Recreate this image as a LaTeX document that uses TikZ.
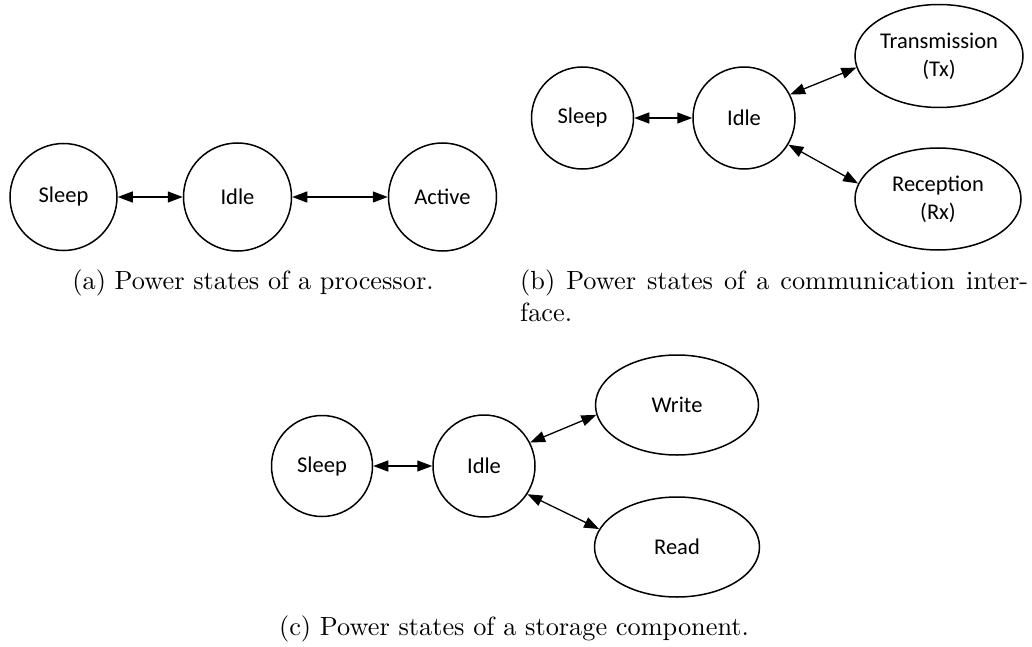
\documentclass[tikz,border=0pt]{standalone}
\usepackage{fontspec}
\newfontfamily\statefont{Carlito}
\newfontfamily\capfont{lmroman10-regular}[Extension=.otf]
\usetikzlibrary{shapes.geometric,arrows.meta}
\tikzset{
  state/.style={draw, line width=1.5pt, circle, inner sep=0pt,
    font=\statefont\fontsize{22.5}{28}\selectfont, align=center},
  oval/.style={draw, line width=1.5pt, ellipse, inner sep=0pt,
    font=\statefont\fontsize{22.5}{28}\selectfont, align=center},
  link/.style={line width=1.3pt,
    {Triangle[length=15pt,width=11pt]}-{Triangle[length=15pt,width=11pt]}},
  caption/.style={font=\capfont\fontsize{26.3}{31.6}\selectfont, inner sep=0pt}
}
\begin{document}
\begin{tikzpicture}[x=1pt,y=-1pt]
  \useasboundingbox (0,0) rectangle (1032,647);

  % (a) processor
  \node[state, minimum size=107pt] (aS) at (63.5,197) {Sleep};
  \node[state, minimum size=108pt] (aI) at (237.5,197) {Idle};
  \node[state, minimum size=108pt] (aA) at (442.5,197) {Active};
  \draw[link] (aS) -- (aI);
  \draw[link] (aI) -- (aA);
  \node[caption, anchor=base] (capa) at (253,289) {(a) Power states of a processor.};

  % (b) communication interface
  \node[state, minimum size=102pt] (bS) at (582.5,118) {Sleep};
  \node[state, minimum size=102pt] (bI) at (744,118) {Idle};
  \node[oval, minimum width=168pt, minimum height=103pt] (bT) at (939,56) {Transmission\\(Tx)};
  \node[oval, minimum width=166pt, minimum height=102pt] (bR) at (938,199) {Reception\\(Rx)};
  \draw[link] (bS) -- (bI);
  \draw[link] (bI.27) -- (bT.188);
  \draw[link] (bI.-31) -- (bR.169);
  \node[caption, anchor=base west, align=left] (capb) at (520,321)
    {\makebox[508pt][s]{(b) Power states of a communication inter-}\\face.};

  % (c) storage component
  \node[state, minimum size=101pt] (cS) at (322,466) {Sleep};
  \node[state, minimum size=102pt] (cI) at (484,466) {Idle};
  \node[oval, minimum width=163pt, minimum height=100pt] (cW) at (677,405) {Write};
  \node[oval, minimum width=165pt, minimum height=100pt] (cR) at (677,547) {Read};
  \draw[link] (cS) -- (cI);
  \draw[link] (cI.27) -- (cW.187);
  \draw[link] (cI.-33) -- (cR.167);
  \node[caption, anchor=base] (capc) at (514,635) {(c) Power states of a storage component.};
\end{tikzpicture}
\end{document}
